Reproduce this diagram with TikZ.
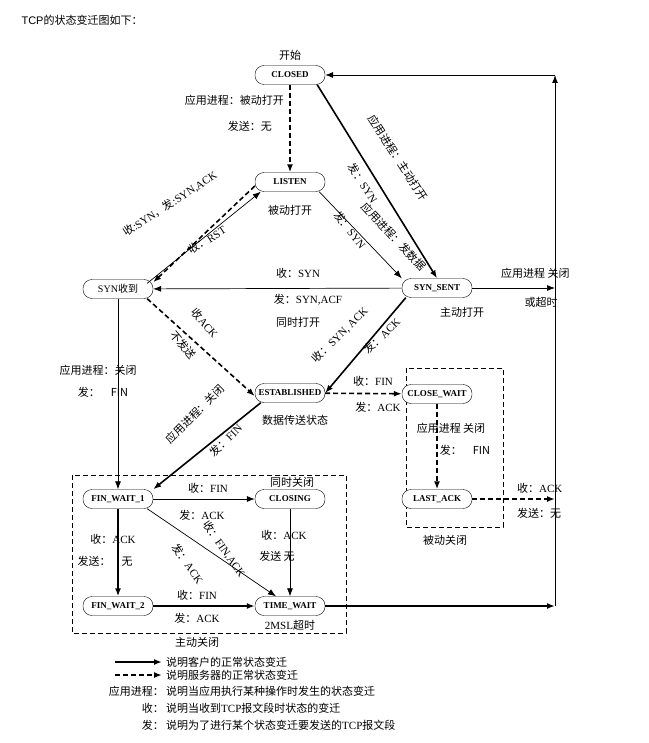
\documentclass[tikz,border=0pt]{standalone}
\usepackage{fontspec}
\setmainfont{Liberation Serif}
\newfontfamily\cjk{Noto Sans CJK SC}
\newfontfamily\titlefont{Liberation Sans}
\XeTeXinterchartokenstate=1
\newXeTeXintercharclass\CJKcls
\count255="3000
\loop\XeTeXcharclass\count255=\CJKcls\ifnum\count255<"9FFF\advance\count255 1 \repeat
\count255="FF00
\loop\XeTeXcharclass\count255=\CJKcls\ifnum\count255<"FFEF\advance\count255 1 \repeat
\XeTeXinterchartoks 0 \CJKcls={\cjk}
\XeTeXinterchartoks 4095 \CJKcls={\cjk}
\XeTeXinterchartoks \CJKcls 0={\rmfamily}
\usetikzlibrary{arrows.meta}
\begin{document}
\begin{tikzpicture}[x=1pt,y=-1pt,
  st/.style={draw,rounded corners=9pt,minimum width=70pt,minimum height=19pt,inner sep=1pt,font=\fontsize{9}{10}\selectfont\bfseries,fill=white},
  lb/.style={font=\fontsize{11}{13}\selectfont,inner sep=1pt},
  thk/.style={line width=1.6pt,-{Latex[length=8pt,width=6pt]}},
  thn/.style={line width=0.7pt,-{Latex[length=8pt,width=6pt]}},
  dsh/.style={line width=1.6pt,dash pattern=on 5pt off 3pt,-{Latex[length=8pt,width=6pt]}},
  box/.style={draw,line width=0.6pt,dash pattern=on 5pt off 3pt}]
\useasboundingbox (0,0) rectangle (648,743);
\node[anchor=west,font=\titlefont\fontsize{11}{13}\selectfont] (title) at (18,20) {TCP的状态变迁图如下：};
% boxes
\draw[box] (406,368) rectangle (503,527);
\draw[box] (72,475) rectangle (346,633);
% states
\node[st] (closed) at (290,75) {CLOSED};
\node[st] (listen) at (290,182) {LISTEN};
\node[st] (synr) at (118,289) {\fontsize{10}{11}\selectfont\mdseries SYN收到};
\node[st] (syns) at (437,288) {SYN\_SENT};
\node[st] (est) at (290,393) {ESTABLISHED};
\node[st] (cw) at (437,394) {CLOSE\_WAIT};
\node[st] (fw1) at (118,499) {FIN\_WAIT\_1};
\node[st] (clg) at (290,499) {CLOSING};
\node[st] (la) at (437,499) {LAST\_ACK};
\node[st] (fw2) at (118,606) {FIN\_WAIT\_2};
\node[st] (tw) at (290,606) {TIME\_WAIT};
\coordinate (rt) at (555,75);
\coordinate (rs) at (555,288);
\coordinate (rl) at (555,499);
\coordinate (rb) at (555,606);
% edges
\draw[dsh] (closed) -- (listen);
\draw[thk] (closed.south east) ++(-8,0) -- (syns.north);
\draw[thn] (listen.south east) ++(-6,0) -- (syns.north west);
\draw[dsh] (listen.west) ++(0,4) -- ([yshift=-3pt]synr.north east);
\draw[thn] (synr.north east) ++(-6,4) -- ([xshift=6pt]listen.south west);
\draw[thn] (syns) -- (synr);
\draw[dsh] (synr.south east) ++(-6,0) -- ([yshift=-3pt]est.west);
\draw[thk] (syns.south west) ++(4,0) -- (est.east);
\draw[thn] (syns) -- (rs);
\draw[thn] (synr) -- (fw1);
\draw[dsh] (est) -- (cw);
\draw[thk] (est.south west) ++(6,0) -- (fw1.north east);
\draw[dsh] (cw) -- (la);
\draw[dsh] (la) -- (rl);
\draw[thn] (fw1) -- (clg);
\draw[thn] (fw1.south east) ++(-6,0) -- ([xshift=-14pt]tw.north);
\draw[thk] (fw1) -- (fw2);
\draw[thn] (clg) -- (tw);
\draw[thk] (fw2) -- (tw);
\draw[thk] (tw) -- (rb);
\draw[line width=1pt,-{Latex[length=8pt,width=6pt]}] (rb) -- (rt);
\draw[thn] (rt) -- (closed);
% labels
\node[lb] (l1) at (290,55) {开始};
\node[lb,anchor=east] (l2) at (285,100) {应用进程：被动打开};
\node[lb,anchor=east] (l3) at (273,126) {发送：无};
\node[lb,rotate=-57] (l4) at (398,158) {应用进程：主动打开};
\node[lb,rotate=-57] (l5) at (363,183) {发：SYN};
\node[lb] (l6) at (290,210) {被动打开};
\node[lb,rotate=-47] (l7) at (394,237) {应用进程：发数据};
\node[lb,rotate=-52] (l8) at (350,230) {发：SYN};
\node[lb,rotate=33] (l9) at (170,204) {收:SYN，发:SYN,ACK};
\node[lb,rotate=33] (l10) at (207,240) {收：RST};
\node[lb] (l11) at (298,273) {收：SYN};
\node[lb] (l12) at (308,300) {发：SYN,ACF};
\node[lb] (l13) at (298,322) {同时打开};
\node[lb] (l14) at (462,312) {主动打开};
\node[lb,anchor=west] (l15) at (500,273) {应用进程 关闭};
\node[lb] (l16) at (541,302) {或超时};
\node[lb,rotate=-50] (l17) at (205,323) {收ACK};
\node[lb,rotate=-50] (l18) at (183,345) {不发送};
\node[lb,rotate=45] (l19) at (340,335) {收：SYN, ACK};
\node[lb,rotate=45] (l20) at (382,336) {发：ACK};
\node[lb] (l21) at (98,370) {应用进程：关闭};
\node[lb] (l22) at (103,392) {发：\quad FIN};
\node[lb] (l23) at (373,381) {收：FIN};
\node[lb] (l24) at (378,407) {发：ACK};
\node[lb] (l25) at (295,420) {数据传送状态};
\node[lb,rotate=45] (l26) at (195,414) {应用进程：关闭};
\node[lb,rotate=45] (l27) at (226,440) {发：FIN};
\node[lb] (l28) at (451,428) {应用进程 关闭};
\node[lb] (l29) at (465,450) {发：\quad FIN};
\node[lb,anchor=west] (l30) at (516,488) {收：ACK};
\node[lb,anchor=west] (l31) at (516,513) {发送：无};
\node[lb] (l32) at (445,540) {被动关闭};
\node[lb] (l33) at (292,482) {同时关闭};
\node[lb] (l34) at (208,488) {收：FIN};
\node[lb] (l35) at (202,515) {发：ACK};
\node[lb,rotate=-55] (l36) at (224,549) {收：FIN,ACK};
\node[lb,rotate=-55] (l37) at (188,564) {发：ACK};
\node[lb] (l38) at (113,539) {收：ACK};
\node[lb] (l39) at (105,561) {发送：\quad 无};
\node[lb] (l40) at (284,535) {收：ACK};
\node[lb] (l41) at (277,556) {发送 无};
\node[lb] (l42) at (197,595) {收：FIN};
\node[lb] (l43) at (197,618) {发：ACK};
\node[lb] (l44) at (290,625) {2MSL超时};
\node[lb] (l45) at (197,642) {主动关闭};
% legend
\coordinate (a1) at (115,662); \coordinate (a2) at (162,662);
\coordinate (b1) at (115,675); \coordinate (b2) at (162,675);
\draw[thk] (a1) -- (a2);
\draw[dsh] (b1) -- (b2);
\node[lb,anchor=west] (g1) at (165,662) {说明客户的正常状态变迁};
\node[lb,anchor=west] (g2) at (165,675) {说明服务器的正常状态变迁};
\node[lb,anchor=east] (g3) at (165,691) {应用进程：};
\node[lb,anchor=east] (g4) at (165,708) {收：};
\node[lb,anchor=east] (g5) at (165,725) {发：};
\node[lb,anchor=west] (g6) at (165,691) {说明当应用执行某种操作时发生的状态变迁};
\node[lb,anchor=west] (g7) at (165,708) {说明当收到TCP报文段时状态的变迁};
\node[lb,anchor=west] (g8) at (165,725) {说明为了进行某个状态变迁要发送的TCP报文段};
\end{tikzpicture}
\end{document}
